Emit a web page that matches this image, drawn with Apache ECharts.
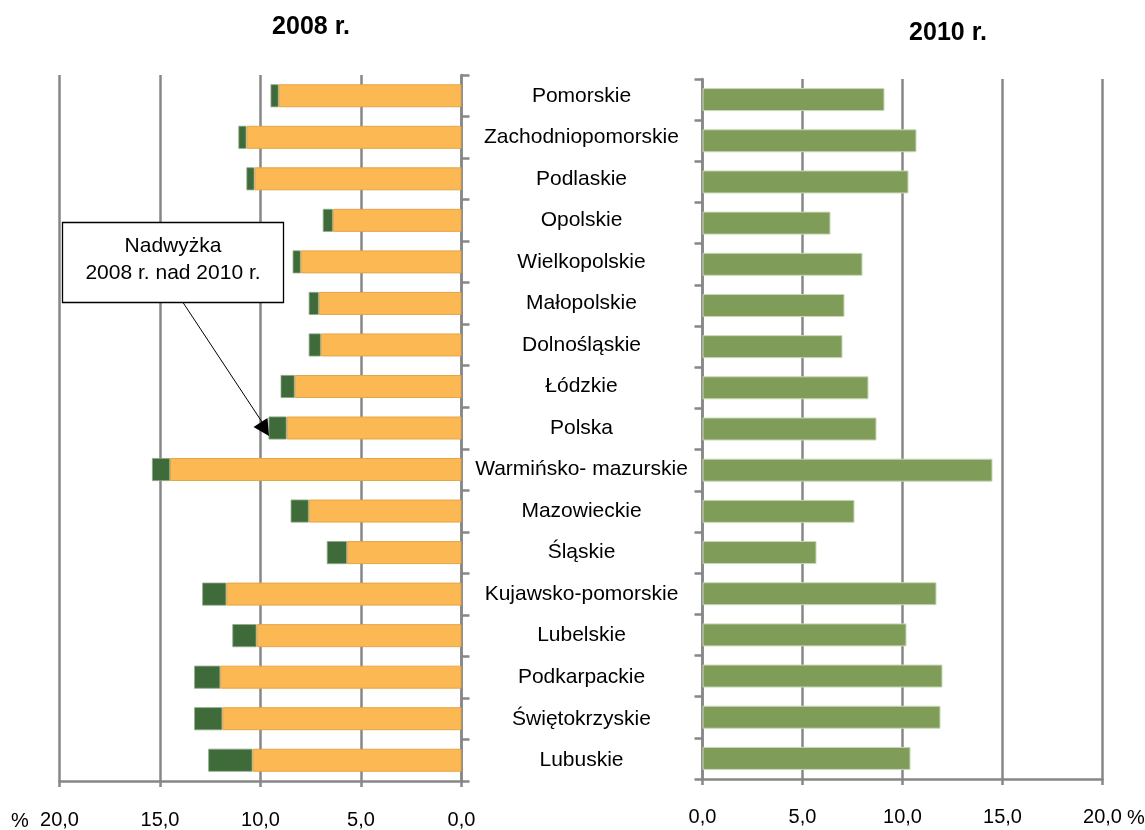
<!DOCTYPE html>
<html>
<head>
<meta charset="utf-8">
<script src="https://cdn.jsdelivr.net/npm/echarts@6/dist/echarts.min.js"></script>
<style>
html,body{margin:0;padding:0;background:#fff;}
#chart{width:1145px;height:830px;}
</style>
</head>
<body>
<div id="chart"></div>
<script>
const categories = ['Pomorskie','Zachodniopomorskie','Podlaskie','Opolskie','Wielkopolskie','Małopolskie','Dolnośląskie','Łódzkie','Polska','Warmińsko- mazurskie','Mazowieckie','Śląskie','Kujawsko-pomorskie','Lubelskie','Podkarpackie','Świętokrzyskie','Lubuskie'];
const values2010 = [9.1,10.7,10.3,6.4,8.0,7.1,7.0,8.3,8.7,14.5,7.6,5.7,11.7,10.2,12.0,11.9,10.4];
const surplus2008 = [0.4,0.4,0.4,0.5,0.4,0.5,0.6,0.7,0.9,0.9,0.9,1.0,1.2,1.2,1.3,1.4,2.2];
const xTicks = [0,5,10,15,20];

const FONT = 'Liberation Sans, Arial, sans-serif';
const GREY = '#878787';
const fmt = v => v.toFixed(1).replace('.', ',');

const chart = echarts.init(document.getElementById('chart'), null, {renderer:'canvas'});

const xCommon = {
  type:'value', min:xTicks[0], max:xTicks[xTicks.length-1], interval:5,
  axisLine:{show:true, lineStyle:{color:GREY, width:2.5}},
  axisTick:{show:true, length:6, lineStyle:{color:GREY, width:2.5}},
  splitLine:{show:true, lineStyle:{color:GREY, width:2.5}},
  axisLabel:{formatter:fmt, fontFamily:FONT, fontSize:20, color:'#000', margin:29, showMinLabel:true, showMaxLabel:true}
};
const yCommon = {
  type:'category', data:categories, inverse:true,
  axisLine:{show:true, lineStyle:{color:GREY, width:2.5}},
  axisTick:{show:true, length:8, lineStyle:{color:GREY, width:2.5}},
  splitLine:{show:false}
};

chart.setOption({
  animation:false,
  backgroundColor:'#fff',
  grid:[
    {left:59.5, top:75, width:402, height:708},
    {left:702.5, top:79, width:400, height:700}
  ],
  xAxis:[
    Object.assign({}, xCommon, {gridIndex:0, inverse:true}),
    Object.assign({}, xCommon, {gridIndex:1, axisLabel:Object.assign({}, xCommon.axisLabel, {margin:28})})
  ],
  yAxis:[
    Object.assign({}, yCommon, {gridIndex:0, position:'right',
      axisLabel:{show:true, align:'center', margin:120, fontFamily:FONT, fontSize:21, color:'#000'}}),
    Object.assign({}, yCommon, {gridIndex:1, position:'left', axisLabel:{show:false}})
  ],
  series:[
    {name:'2010', type:'bar', xAxisIndex:0, yAxisIndex:0, stack:'l', data:values2010, barWidth:23,
      itemStyle:{color:'#FCB852', borderColor:'#E3A548', borderWidth:1}},
    {name:'Nadwyżka', type:'bar', xAxisIndex:0, yAxisIndex:0, stack:'l', data:surplus2008, barWidth:23,
      itemStyle:{color:'#3E6B39', borderColor:'#8FA888', borderWidth:0.8}},
    {name:'2010 r.', type:'bar', xAxisIndex:1, yAxisIndex:1, data:values2010, barWidth:23,
      itemStyle:{color:'#7F9D59', borderColor:'#C9D8B8', borderWidth:1}}
  ],
  graphic:[
    {type:'text', x:311, y:27, style:{text:'2008 r.', font:'bold 25px '+FONT, fill:'#000', textAlign:'center', textVerticalAlign:'middle'}},
    {type:'text', x:948, y:33, style:{text:'2010 r.', font:'bold 25px '+FONT, fill:'#000', textAlign:'center', textVerticalAlign:'middle'}},
    {type:'text', x:20, y:821, style:{text:'%', font:'20px '+FONT, fill:'#000', textAlign:'center', textVerticalAlign:'middle'}},
    {type:'text', x:1136, y:818, style:{text:'%', font:'20px '+FONT, fill:'#000', textAlign:'center', textVerticalAlign:'middle'}},
    {type:'rect', shape:{x:62.5, y:222.5, width:221, height:80}, style:{fill:'#fff', stroke:'#000', lineWidth:1.3}, z:10},
    {type:'text', x:173, y:246, z:11, style:{text:'Nadwyżka', font:'21px '+FONT, fill:'#000', textAlign:'center', textVerticalAlign:'middle'}},
    {type:'text', x:173, y:273, z:11, style:{text:'2008 r. nad 2010 r.', font:'21px '+FONT, fill:'#000', textAlign:'center', textVerticalAlign:'middle'}},
    {type:'line', shape:{x1:183, y1:302.5, x2:262, y2:422}, style:{stroke:'#000', lineWidth:1}, z:10},
    {type:'polygon', shape:{points:[[253.5,427],[267.5,418],[269,436]]}, style:{fill:'#000'}, z:10}
  ]
});
</script>
</body>
</html>
